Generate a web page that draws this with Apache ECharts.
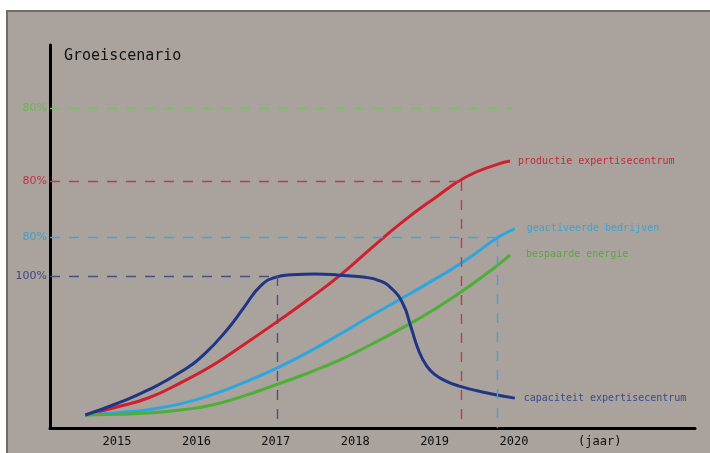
<!DOCTYPE html>
<html>
<head>
<meta charset="utf-8">
<script src="https://cdn.jsdelivr.net/npm/echarts@6/dist/echarts.min.js"></script>
<style>
  html, body { margin: 0; padding: 0; background: #ffffff; }
  #panel {
    position: absolute; left: 6px; top: 10px; right: 0; bottom: 0;
    background: #a9a29d;
    border-left: 2px solid #6f6c6a; border-top: 2px solid #6f6c6a;
  }
  #main { position: absolute; left: 0; top: 0; width: 710px; height: 453px; }
</style>
</head>
<body>
<div id="panel"></div>
<div id="main"></div>
<script>
// x = year, y = share of the vertical scale (0..100)
const productie = [
  [2014.6, 3.4], [2015.0, 5.5], [2015.4, 7.9], [2015.8, 11.8], [2016.2, 16.3],
  [2016.6, 21.8], [2017.0, 27.5], [2017.4, 33.4], [2017.8, 39.7], [2018.2, 46.9],
  [2018.6, 53.9], [2019.0, 60.0], [2019.4, 65.6], [2019.8, 68.9], [2019.95, 69.7]
]
const geactiveerd = [
  [2014.6, 3.4], [2015.0, 4.0], [2015.4, 4.8], [2015.8, 6.3], [2016.2, 8.7],
  [2016.6, 11.9], [2017.0, 15.5], [2017.4, 19.7], [2017.8, 24.4], [2018.2, 29.3],
  [2018.6, 34.0], [2019.0, 38.8], [2019.4, 43.9], [2019.8, 49.8], [2020.01, 52.0]
]
const bespaard = [
  [2014.6, 3.4], [2015.0, 3.6], [2015.4, 3.9], [2015.8, 4.7], [2016.2, 6.0],
  [2016.6, 8.4], [2017.0, 11.3], [2017.4, 14.3], [2017.8, 17.7], [2018.2, 21.8],
  [2018.6, 26.2], [2019.0, 31.0], [2019.4, 36.5], [2019.8, 42.6], [2019.95, 45.2]
]
const capaciteit = [
  [2014.6, 3.4], [2015.0, 6.4], [2015.4, 10.0], [2015.8, 14.6], [2016.1, 19.3],
  [2016.4, 26.0], [2016.6, 31.5], [2016.8, 36.9], [2017.0, 39.4], [2017.2, 40.0],
  [2017.5, 40.2], [2017.8, 39.9], [2018.1, 39.4], [2018.3, 38.5], [2018.45, 36.6],
  [2018.6, 32.5], [2018.7, 26.5], [2018.8, 20.2], [2018.9, 16.2], [2019.0, 14.0],
  [2019.15, 12.2], [2019.3, 11.0], [2019.6, 9.4], [2020.01, 7.8]
]

const seriesNames = ['productie expertisecentrum', 'geactiveerde bedrijven', 'bespaarde energie', 'capaciteit expertisecentrum']
const xLabels = [2015, 2016, 2017, 2018, 2019, 2020]
const unitLabel = '(jaar)'
const unitPos = 2021.08

// reference (dashed) lines: level, x where it stops, label, drop to axis?
const refLevels = [83.6, 64.5, 49.9, 39.7]
const refEnds = [2019.97, 2019.33, 2019.79, 2017.02]
const refLabels = ['80%', '80%', '80%', '100%']
const refDrop = [false, true, true, true]

const xMin = 2014.156
const xMax = 2022.28

const lineColors = ['#d21f2e', '#2aa7e0', '#4daf34', '#1f3585']
const refColors = ['#7dbb6a', '#c23a4c', '#48a2d4', '#4a5283']
const labelColors = ['#c8283c', '#38a4da', '#5aa83e', '#3c4a8c']
const labelGaps = [8, 12, 16, 9]
const yLabelColors = ['#6db452', '#c83142', '#3aa0d2', '#3e4886']

function refLine(i) {
  const d = [[{ coord: [xMin, refLevels[i]] }, { coord: [refEnds[i], refLevels[i]] }]]
  if (refDrop[i]) d.push([{ coord: [refEnds[i], refLevels[i]] }, { coord: [refEnds[i], 0] }])
  return {
    silent: true,
    symbol: 'none',
    label: { show: false },
    lineStyle: { color: refColors[i], type: [10, 9], width: 1.4 },
    data: d
  }
}

const allData = [productie, geactiveerd, bespaard, capaciteit]
// productie -> red ref, geactiveerd -> blue ref, bespaard -> green ref, capaciteit -> navy ref
const refOf = [1, 2, 0, 3]

const series = allData.map((d, i) => ({
  name: seriesNames[i],
  type: 'line',
  data: d,
  smooth: 0.5,
  symbol: 'none',
  lineStyle: { color: lineColors[i], width: 3 },
  itemStyle: { color: lineColors[i] },
  z: 3,
  endLabel: {
    show: true,
    formatter: seriesNames[i],
    color: labelColors[i],
    fontFamily: 'DejaVu Sans Mono',
    fontSize: 10,
    distance: labelGaps[i]
  },
  markLine: refLine(refOf[i])
}))

const rich = {}
refLabels.forEach((t, i) => {
  rich['c' + i] = { color: yLabelColors[i], fontFamily: 'DejaVu Sans', fontSize: 11 }
})

const option = {
  animation: false,
  title: {
    text: 'Groeiscenario',
    left: 59,
    top: 44,
    textStyle: { fontFamily: 'DejaVu Sans Mono', fontWeight: 'normal', fontSize: 15, color: '#111' }
  },
  grid: { left: 50, right: 15, top: 45, bottom: 25 },
  xAxis: {
    type: 'value',
    min: xMin,
    max: xMax,
    axisLine: { show: true, lineStyle: { color: '#000', width: 3 } },
    axisTick: { show: false },
    splitLine: { show: false },
    axisLabel: {
      customValues: xLabels.concat([unitPos]),
      formatter: (v) => (v === unitPos ? unitLabel : String(v)),
      color: '#0e0e0e',
      fontFamily: 'DejaVu Sans Mono',
      fontSize: 12,
      margin: 8
    }
  },
  yAxis: {
    type: 'value',
    min: 0,
    max: 100,
    axisLine: { show: true, lineStyle: { color: '#000', width: 3 } },
    axisTick: { show: false },
    splitLine: { show: false },
    axisLabel: {
      customValues: refLevels,
      formatter: (v) => {
        const i = refLevels.indexOf(v)
        return '{c' + i + '|' + refLabels[i] + '}'
      },
      rich: rich,
      margin: 3
    }
  },
  series: series
}

const chart = echarts.init(document.getElementById('main'))
chart.setOption(option)
</script>
</body>
</html>
